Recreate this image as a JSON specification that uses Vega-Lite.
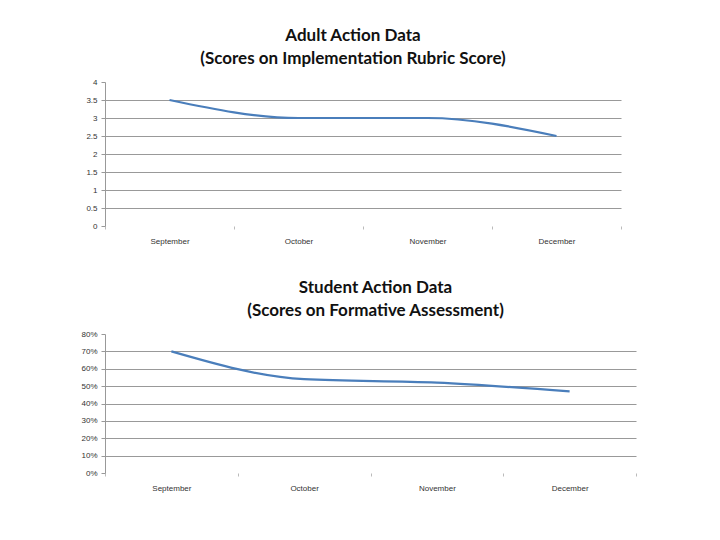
{
  "$schema": "https://vega.github.io/schema/vega-lite/v6.json",
  "background": "white",
  "padding": {"left": 80, "top": 27, "right": 10, "bottom": 5},
  "spacing": 34,
  "config": {
    "view": {"stroke": null},
    "font": "Lato",
    "title": {"fontSize": 17, "font": "Lato", "fontWeight": "bold", "color": "#111", "lineHeight": 23, "offset": 10, "anchor": "middle"},
    "axisX": {"title": null, "labelAngle": 0, "labelFontSize": 8, "labelColor": "#333", "labelFont": "Liberation Sans", "tickBand": "extent", "tickSize": 3, "tickColor": "#bbb", "domain": false, "grid": false, "labelPadding": 8},
    "axisY": {"title": null, "labelFontSize": 8, "labelColor": "#333", "labelFont": "Liberation Sans", "tickSize": 4, "tickColor": "#999", "domainColor": "#999", "gridColor": "#999", "labelPadding": 4}
  },
  "vconcat": [
    {
      "title": {"text": ["Adult Action Data", "(Scores on Implementation Rubric Score)"], "dx": -10},
      "width": 516,
      "height": 144,
      "data": {"values": [
        {"month": "September", "score": 3.5},
        {"month": "October", "score": 3.0},
        {"month": "November", "score": 3.0},
        {"month": "December", "score": 2.5}
      ]},
      "mark": {"type": "line", "color": "#4a7ebb", "strokeWidth": 2.2, "interpolate": "monotone"},
      "encoding": {
        "x": {"field": "month", "type": "nominal", "sort": null, "bandPosition": 0.5, "scale": {"type": "band", "paddingInner": 0, "paddingOuter": 0}},
        "y": {"field": "score", "type": "quantitative", "scale": {"domain": [0, 4]}, "axis": {"format": "~g", "values": [0, 0.5, 1, 1.5, 2, 2.5, 3, 3.5, 4], "gridOpacity": {"condition": {"test": "datum.value === 0 || datum.value === 4", "value": 0}, "value": 1}}}
      }
    },
    {
      "title": {"text": ["Student Action Data", "(Scores on Formative Assessment)"], "dx": 5},
      "width": 531,
      "height": 139,
      "data": {"values": [
        {"month": "September", "score": 0.70},
        {"month": "October", "score": 0.54},
        {"month": "November", "score": 0.52},
        {"month": "December", "score": 0.47}
      ]},
      "mark": {"type": "line", "color": "#4a7ebb", "strokeWidth": 2.2, "interpolate": "monotone"},
      "encoding": {
        "x": {"field": "month", "type": "nominal", "sort": null, "bandPosition": 0.5, "scale": {"type": "band", "paddingInner": 0, "paddingOuter": 0}},
        "y": {"field": "score", "type": "quantitative", "scale": {"domain": [0, 0.8]}, "axis": {"format": ".0%", "values": [0, 0.1, 0.2, 0.3, 0.4, 0.5, 0.6, 0.7, 0.8], "gridOpacity": {"condition": {"test": "datum.value === 0 || datum.value === 0.8", "value": 0}, "value": 1}}}
      }
    }
  ]
}
